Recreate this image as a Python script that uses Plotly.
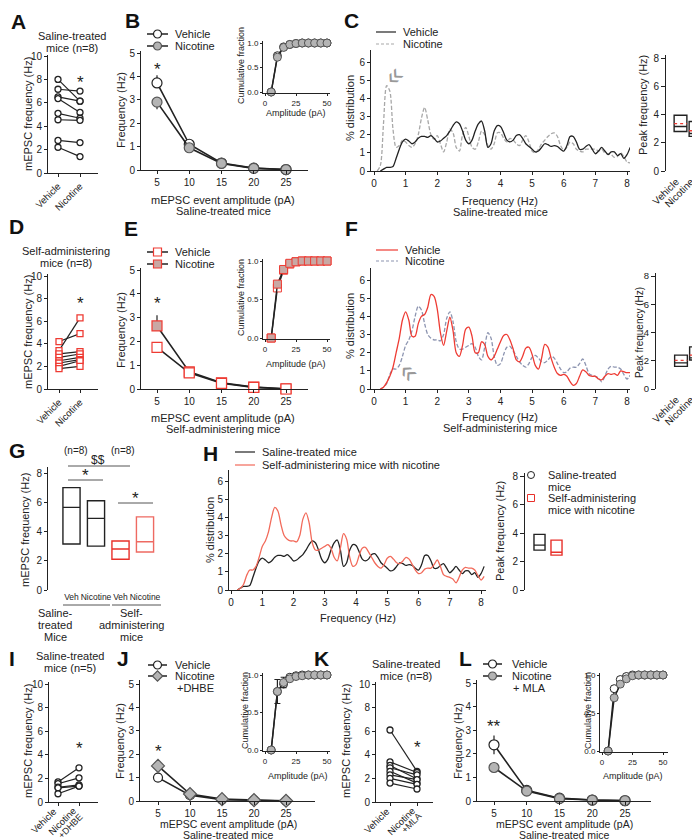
import plotly.graph_objects as go

W, H = 700, 840

# ---------------- data ----------------
pair_cats = ["Vehicle", "Nicotine"]
A_veh = [8.0, 7.16, 6.5, 6.36, 5.1, 4.55, 2.78, 2.2]
A_nic = [6.14, 7.0, 6.14, 5.18, 4.68, 4.5, 2.6, 1.4]
D_veh = [4.2, 3.4, 3.1, 2.8, 2.5, 2.3, 2.0, 1.8]
D_nic = [4.9, 6.3, 3.3, 3.1, 2.8, 2.6, 2.5, 2.0]
I_cats = ["Vehicle", "Nicotine", "+DHBE"]
I_veh = [1.7, 1.55, 1.25, 1.2, 0.7]
I_nic = [2.9, 2.05, 1.45, 1.35, 1.35]
K_cats = ["Vehicle", "Nicotine", "+MLA"]
K_veh = [6.1, 3.4, 3.1, 2.9, 2.6, 2.3, 2.0, 1.6]
K_nic = [2.6, 2.5, 1.95, 2.3, 1.6, 1.9, 1.5, 1.1]

amps = [5, 10, 15, 20, 25]
B_veh = [3.72, 1.1, 0.3, 0.08, 0.02]
B_veh_err = [0.33, 0.12, 0.04, 0.02, 0.01]
B_nic = [2.9, 0.95, 0.28, 0.07, 0.02]
B_nic_err = [0.3, 0.1, 0.04, 0.02, 0.01]
E_veh = [1.75, 0.68, 0.24, 0.07, 0.0]
E_veh_err = [0.15, 0.05, 0.03, 0.01, 0.0]
E_nic = [2.65, 0.72, 0.26, 0.08, 0.01]
E_nic_err = [0.45, 0.06, 0.03, 0.01, 0.0]
J_veh = [1.0, 0.25, 0.06, 0.03, 0.0]
J_veh_err = [0.08, 0.04, 0.01, 0.01, 0.0]
J_nic = [1.5, 0.3, 0.08, 0.04, 0.01]
J_nic_err = [0.1, 0.04, 0.01, 0.01, 0.0]
L_veh = [2.38, 0.45, 0.12, 0.04, 0.01]
L_veh_err = [0.4, 0.05, 0.02, 0.01, 0.0]
L_nic = [1.42, 0.42, 0.1, 0.04, 0.02]
L_nic_err = [0.2, 0.04, 0.02, 0.01, 0.0]

cum_amps = [5, 10, 15, 20, 25, 30, 35, 40, 45, 50]
B_cum_veh = [0, 0.74, 0.92, 0.97, 0.99, 1.0, 1.0, 1.0, 1.0, 1.0]
B_cum_nic = [0, 0.71, 0.91, 0.97, 0.99, 1.0, 1.0, 1.0, 1.0, 1.0]
E_cum_veh = [0, 0.65, 0.88, 0.96, 0.99, 1.0, 1.0, 1.0, 1.0, 1.0]
E_cum_nic = [0, 0.70, 0.89, 0.97, 0.99, 1.0, 1.0, 1.0, 1.0, 1.0]
J_cum_veh = [0, 0.78, 0.88, 0.97, 0.99, 1.0, 1.0, 1.0, 1.0, 1.0]
J_cum_nic = [0, 0.78, 0.90, 0.95, 0.98, 0.99, 1.0, 1.0, 1.0, 1.0]
J_cum_err = [0, 0.16, 0.07, 0.02, 0.01, 0, 0, 0, 0, 0]
L_cum_veh = [0, 0.82, 0.94, 0.98, 1.0, 1.0, 1.0, 1.0, 1.0, 1.0]
L_cum_nic = [0, 0.70, 0.88, 0.95, 0.99, 1.0, 1.0, 1.0, 1.0, 1.0]

C_veh = [0, 0.1, 0.2, 0.2, 0.25, 0.7, 1.2, 1.6, 1.75, 1.65,
         1.5, 1.6, 1.8, 1.9, 1.9, 1.85, 1.95, 1.8, 1.6, 1.65,
         1.8, 1.95, 2.2, 2.5, 2.7, 2.6, 2.2, 1.7, 1.5, 1.7,
         2.2, 2.6, 2.75, 2.2, 1.3, 1.5, 2.2, 2.5, 2.45, 2.1,
         1.7, 1.6, 1.7, 1.95, 2.0, 1.8, 1.5, 1.35, 1.2, 1.05,
         1.1, 1.3, 1.5, 1.45, 1.35, 1.4, 1.35, 1.2, 1.1, 1.4,
         1.9, 1.9, 1.6, 1.2, 1.2, 1.35, 1.45, 1.2, 0.95, 1.1,
         1.3, 1.1, 0.9, 1.05, 1.05, 0.85, 0.95, 0.7, 0.9, 1.3]
C_nic = [0, 0.3, 2.6, 4.7, 4.4, 2.3, 1.3, 1.4, 1.7, 1.6,
         1.4, 1.3, 1.5, 2.0, 2.9, 3.5, 2.8, 2.0, 1.75, 1.95,
         1.5, 1.05, 1.6, 2.3, 2.1, 1.3, 1.1, 2.0, 2.4, 1.9,
         1.3, 1.2, 1.6, 2.2, 2.0, 1.4, 1.2, 1.5, 2.1, 2.1,
         1.8, 1.6, 1.8, 1.7, 1.5, 1.4, 1.7, 1.95, 1.6, 1.1,
         1.0, 1.2, 1.5, 1.7, 1.9, 2.05, 2.1, 1.9, 1.4, 1.15,
         1.3, 1.6, 1.5, 1.2, 1.1, 1.05, 1.2, 1.2, 1.2, 1.2,
         1.1, 1.2, 1.0, 0.95, 0.9, 0.75, 0.8, 1.0, 0.8, 0.5,
         0.45]
F_veh = [0, 0.1, 0.35, 0.7, 1.2, 2.0, 2.8, 3.8, 4.25, 3.8,
         2.9, 2.9, 3.6, 4.0, 4.1, 4.5, 5.2, 5.1, 4.4, 3.1,
         2.4, 3.2, 3.95, 3.2, 2.0, 1.8, 2.4, 3.3, 3.4, 2.9,
         2.0, 2.0, 2.6, 2.45, 1.8, 1.6, 1.8, 2.2, 2.6, 2.95,
         3.0, 2.7, 2.2, 1.6, 1.5, 1.8, 2.25, 2.3, 1.9, 1.3,
         1.1, 1.7, 2.45, 2.3, 1.7, 1.2, 0.85, 0.75, 0.8, 0.7,
         0.4, 0.2, 0.3, 0.7, 1.05, 0.95, 0.75, 0.7, 0.7, 0.55,
         0.5, 0.7, 0.85, 0.8, 0.85, 0.75, 1.0, 0.95, 0.9, 0.9]
F_nic = [0, 0.1, 0.3, 0.8, 1.1, 1.1, 1.3, 1.8, 2.4, 2.7,
         3.2, 4.0, 4.55, 4.35, 3.6, 3.0, 2.8, 2.7, 2.7, 2.65,
         3.0, 3.9, 4.25, 3.7, 2.6, 2.2, 2.2, 2.3, 2.4, 2.5,
         2.3, 1.8, 1.6, 2.3, 3.1, 2.8, 1.8, 1.3, 1.4, 1.9,
         2.3, 2.35, 2.1, 1.8, 1.5, 1.3, 1.2, 1.4, 1.75, 1.85,
         1.7, 1.5, 1.45, 1.6, 1.8, 1.7, 1.4, 1.1, 0.9, 0.95,
         1.15, 1.2, 1.2, 1.4, 1.65, 1.3, 0.85, 0.75, 0.7, 0.6,
         0.4, 0.7, 1.1, 1.25, 1.2, 1.2, 1.1, 0.8, 0.55, 0.75]
freq_from_02 = [round(0.2 + 0.1 * i, 2) for i in range(len(C_veh))]
freq_from_01 = [round(0.1 + 0.1 * i, 2) for i in range(len(C_nic))]

box_cats = ["Vehicle", "Nicotine"]
Cbox_q1 = [2.8, 2.45]; Cbox_med = [3.15, 2.65]; Cbox_q3 = [3.95, 3.5]; Cbox_mean = [3.35, 2.85]
Fbox_q1 = [1.6, 2.05]; Fbox_med = [1.85, 2.2]; Fbox_q3 = [2.4, 2.98]; Fbox_mean = [2.02, 2.4]
G_cats = ["Veh", "Nicotine", "Veh", "Nicotine"]
G_q1 = [3.15, 3.0, 2.1, 2.6]; G_med = [5.65, 4.9, 2.8, 3.3]; G_q3 = [7.0, 6.1, 3.35, 5.0]
G_colors = ["#222222", "#222222", "#e8302a", "#ee6a62"]
Hbox_q1 = [2.8, 2.45]; Hbox_med = [3.15, 2.65]; Hbox_q3 = [3.9, 3.5]

RED = "#ee3b33"
GREY = "#b4b4b4"
DARK = "#222222"
FONT = "Arial, Liberation Sans, sans-serif"

fig = go.Figure()
layout = dict(width=W, height=H, margin=dict(l=0, r=0, t=0, b=0),
              paper_bgcolor="white", plot_bgcolor="rgba(0,0,0,0)",
              showlegend=False, font=dict(family=FONT, size=10, color=DARK))


def lin(p, v1, p1, v2, p2):
    return v1 + (p - p1) * (v2 - v1) / (p2 - p1)


def refs(n):
    return ("x" if n == 1 else f"x{n}"), ("y" if n == 1 else f"y{n}")


def axes(n, xpx, xcal, ypx, ycal, xkw=None, ykw=None, fs=10):
    xr, yr = refs(n)
    base = dict(showgrid=False, zeroline=False, showline=True, linecolor=DARK,
                linewidth=1, ticks="outside", ticklen=3, tickwidth=1, tickcolor=DARK,
                tickfont=dict(size=fs, color=DARK, family=FONT), fixedrange=True,
                automargin=False, tickangle=0)
    xa = dict(base, domain=[xpx[0] / W, xpx[1] / W],
              range=[lin(xpx[0], *xcal), lin(xpx[1], *xcal)], anchor=yr)
    ya = dict(base, domain=[1 - ypx[0] / H, 1 - ypx[1] / H],
              range=[lin(ypx[0], *ycal), lin(ypx[1], *ycal)], anchor=xr)
    if xkw:
        xa.update(xkw)
    if ykw:
        ya.update(ykw)
    layout["xaxis" if n == 1 else f"xaxis{n}"] = xa
    layout["yaxis" if n == 1 else f"yaxis{n}"] = ya


def on(n):
    xr, yr = refs(n)
    return dict(xaxis=xr, yaxis=yr, showlegend=False, cliponaxis=False)


annotations = []
shapes = []


def T(x, y, text, size=11, xa="center", ya="middle", angle=0, color=DARK, bold=False, gap=12, pad=1):
    lines = text if isinstance(text, list) else [text]
    for k, t in enumerate(lines):
        if bold:
            t = f"<b>{t}</b>"
        annotations.append(dict(x=x, y=y + k * gap, xref="x20", yref="y20", text=t, showarrow=False,
                                xanchor=xa, yanchor=ya, textangle=angle, borderpad=pad,
                                font=dict(size=size, color=color, family=FONT)))


def rot(x_end, y_top, text, size=10):
    # label rotated to read upwards, its end sitting at (x_end, y_top)
    T(x_end, y_top, text, size, xa="right", ya="top", angle=-45, pad=0)


def star(n, x, y, text="*", size=17):
    xr, yr = refs(n)
    annotations.append(dict(x=x, y=y, xref=xr, yref=yr, text=text, showarrow=False,
                            font=dict(size=size, color=DARK, family=FONT)))


def seg(x0, x1, y0, y1, color="#555", width=1):
    shapes.append(dict(type="line", xref="x20", yref="y20", x0=x0, x1=x1, y0=y0, y1=y1,
                       line=dict(color=color, width=width)))


def leg(x0, x1, y, lcolor=DARK, dash="solid", msym=None, mfill="white", medge=DARK, msize=8, lw=1.5):
    fig.add_trace(go.Scatter(x=[x0, x1], y=[y, y], mode="lines",
                             line=dict(color=lcolor, width=lw, dash=dash), **on(20)))
    if msym:
        fig.add_trace(go.Scatter(x=[(x0 + x1) / 2], y=[y], mode="markers",
                                 marker=dict(symbol=msym, size=msize, color=mfill,
                                             line=dict(color=medge, width=1.2)), **on(20)))


# ---------------- axes ----------------
small = dict(tickfont=dict(size=8, color=DARK, family=FONT), ticklen=2)
yt10 = dict(tickvals=[0, 2, 4, 6, 8, 10])
yt5 = dict(tickvals=[0, 1, 2, 3, 4, 5])
xamp = dict(tickvals=amps)
cumx = dict(small, tickvals=[0, 25, 50])
cumy = dict(small, tickvals=[0, 0.5, 1.0], ticktext=["0.0", "0.5", "1.0"])
fx = dict(tickvals=[0, 1, 2, 3, 4, 5, 6, 7, 8])
fy = dict(tickvals=[0, 1, 2, 3, 4, 5, 6])
boxx = dict(showline=False, ticks="", tickvals=[0, 1], showticklabels=False)
pky = dict(tickvals=[0, 2, 4, 6, 8], ticklen=4)
pairx = dict(tickangle=-45, tickfont=dict(size=9.5, color=DARK, family=FONT))
pairx_manual = dict(tickvals=[0, 1], showticklabels=False)

axes(1, (40, 90), (0, 50, 1, 72), (165, 47), (0, 165, 10, 48),
     dict(pairx, tickvals=[0, 1], ticktext=pair_cats), yt10)
axes(2, (133, 300), (5, 149, 25, 278), (162, 43), (0, 162, 5, 45), xamp, yt5)
axes(3, (255, 322), (0, 257, 50, 319), (85, 33), (0, 84, 1, 35), cumx, cumy)
axes(4, (363, 622), (0, 366, 8, 619), (163, 42), (0, 163, 6, 54), fx, fy)
axes(5, (658, 700), (0, 672.5, 1, 687.5), (163, 47), (0, 163, 8, 50), boxx, pky)
axes(6, (40, 90), (0, 51, 1, 72), (381, 266), (0, 381, 10, 268),
     dict(pairx, tickvals=[0, 1], ticktext=pair_cats), yt10)
axes(7, (133, 300), (5, 149, 25, 278), (381, 260), (0, 381, 5, 262), xamp, yt5)
axes(8, (255, 322), (0, 257, 50, 319), (331, 251), (0, 330, 1, 253), cumx, cumy)
axes(9, (363, 622), (0, 366, 8, 619), (381, 260), (0, 381, 6, 272), fx, fy)
axes(10, (648, 700), (0, 673, 1, 688), (381, 265), (0, 381, 8, 268), boxx,
     dict(pky, tickfont=dict(size=9.5, color=DARK, family=FONT)))
axes(11, (40, 152), (0, 63.5, 1, 88), (582, 459), (0, 582, 8, 465),
     dict(showline=False, ticks="", tickvals=[0, 1, 2, 3], ticktext=G_cats, tickangle=0,
          tickfont=dict(size=8.5, color=DARK, family=FONT)), dict(tickvals=[0, 2, 4, 6, 8]))
axes(12, (221, 478), (0, 223, 8, 473), (582, 462), (0, 582, 6, 473), fx, fy)
axes(13, (517, 560), (0, 531.5, 1, 548.5), (582, 465), (0, 582, 8, 468),
     dict(showline=False, ticks="", showticklabels=False), pky)
axes(14, (41, 90), (0, 50, 1, 71), (794, 674), (0, 794, 10, 676), pairx_manual, yt10)
axes(15, (132, 307), (5, 150, 25, 278), (793, 672), (0, 793, 5, 676), xamp, yt5)
axes(16, (255, 322), (0, 257, 50, 319), (743, 665), (0, 742, 1, 667), cumx, cumy)
axes(17, (368, 425), (0, 382, 1, 409), (794, 674), (0, 794, 10, 676), pairx_manual, yt10)
axes(18, (469, 643), (5, 486, 25, 617), (793, 672), (0, 793, 5, 675), xamp, yt5)
axes(19, (592, 660), (0, 594, 50, 655), (744, 665), (0, 743, 1, 667), cumx, cumy)
layout["xaxis20"] = dict(domain=[0, 1], range=[0, W], visible=False, fixedrange=True, anchor="y20")
layout["yaxis20"] = dict(domain=[0, 1], range=[H, 0], visible=False, fixedrange=True, anchor="x20")


# ---------------- paired plots ----------------
def paired(n, veh, nic, sym, edge, size=6):
    for v, c in zip(veh, nic):
        fig.add_trace(go.Scatter(x=[0, 1], y=[v, c], mode="lines+markers",
                                 line=dict(color=DARK, width=1.2),
                                 marker=dict(symbol=sym, size=size, color="white",
                                             line=dict(color=edge, width=1.3)), **on(n)))


paired(1, A_veh, A_nic, "circle", DARK)
paired(6, D_veh, D_nic, "square", RED)
paired(14, I_veh, I_nic, "circle", DARK)
paired(17, K_veh, K_nic, "circle", DARK)
star(1, 1, 7.7)
star(6, 1, 7.6)
star(14, 1, 4.5)
star(17, 1, 4.6)


# ---------------- amplitude plots ----------------
def amp_trace(n, y, err, up, sym, fill, edge, size=10, both=False):
    ed = dict(type="data", symmetric=False,
              array=err if (up or both) else [0] * len(err),
              arrayminus=err if (both or not up) else [0] * len(err),
              color=DARK, thickness=1.2, width=0)
    fig.add_trace(go.Scatter(x=amps, y=y, mode="lines+markers", error_y=ed,
                             line=dict(color=DARK, width=1.6),
                             marker=dict(symbol=sym, size=size, color=fill,
                                         line=dict(color=edge, width=1.2)), **on(n)))


def cum_trace(n, y, sym, fill, edge, err=None):
    kw = {}
    if err is not None:
        kw["error_y"] = dict(type="data", array=err, color=DARK, thickness=1.2, width=3)
    fig.add_trace(go.Scatter(x=cum_amps, y=y, mode="lines+markers",
                             line=dict(color=DARK, width=1.4),
                             marker=dict(symbol=sym, size=8, color=fill,
                                         line=dict(color=edge, width=1)), **kw, **on(n)))


amp_trace(2, B_veh, B_veh_err, True, "circle", "white", DARK)
amp_trace(2, B_nic, B_nic_err, False, "circle", GREY, "#555")
cum_trace(3, B_cum_veh, "circle", "white", DARK)
cum_trace(3, B_cum_nic, "circle", GREY, "#555")
star(2, 5, 4.3)

amp_trace(7, E_nic, E_nic_err, True, "square", "#c9a8a4", RED)
amp_trace(7, E_veh, E_veh_err, False, "square", "white", RED)
cum_trace(8, E_cum_veh, "square", "white", RED)
cum_trace(8, E_cum_nic, "square", "#c9a8a4", RED)
star(7, 5, 3.6)

amp_trace(15, J_veh, J_veh_err, False, "circle", "white", DARK, 9)
amp_trace(15, J_nic, J_nic_err, True, "diamond", GREY, "#555", 10)
cum_trace(16, J_cum_veh, "circle", "white", DARK)
cum_trace(16, J_cum_nic, "circle", GREY, "#555", J_cum_err)
star(15, 5, 2.1)

amp_trace(18, L_veh, L_veh_err, True, "circle", "white", DARK, both=True)
amp_trace(18, L_nic, L_nic_err, False, "circle", GREY, "#555", both=True)
cum_trace(19, L_cum_veh, "circle", "white", DARK)
cum_trace(19, L_cum_nic, "circle", GREY, "#555")
star(18, 5, 3.15, "**")


# ---------------- frequency distributions ----------------
def curve(n, x, y, color, dash="solid", width=1.3):
    fig.add_trace(go.Scatter(x=x, y=y, mode="lines",
                             line=dict(color=color, width=width, dash=dash, shape="spline", smoothing=0.8),
                             **on(n)))


curve(4, freq_from_01, C_nic, "#a8a8a8", "4px,2px")
curve(4, freq_from_02, C_veh, DARK)
curve(9, freq_from_02, F_nic, "#8c94b0", "4px,2px")
curve(9, freq_from_02, F_veh, RED)
curve(12, freq_from_02, C_veh, DARK)
curve(12, freq_from_02, F_nic, "#f26a5a")


# ---------------- boxes ----------------
def boxes(n, q1, med, q3, colors, width, mean=None):
    for i in range(len(q1)):
        fig.add_trace(go.Box(x=[i], q1=[q1[i]], median=[med[i]], q3=[q3[i]],
                             lowerfence=[q1[i]], upperfence=[q3[i]], width=width,
                             whiskerwidth=0, fillcolor="rgba(0,0,0,0)", boxpoints=False,
                             line=dict(color=colors[i], width=1.4),
                             xaxis=refs(n)[0], yaxis=refs(n)[1], showlegend=False))
        if mean is not None:
            fig.add_trace(go.Scatter(x=[i - width / 2, i + width / 2], y=[mean[i], mean[i]],
                                     mode="lines", line=dict(color=RED, width=1.3, dash="dot"),
                                     **on(n)))


boxes(5, Cbox_q1, Cbox_med, Cbox_q3, [DARK, DARK], 0.85, Cbox_mean)
boxes(10, Fbox_q1, Fbox_med, Fbox_q3, [DARK, DARK], 0.85, Fbox_mean)
boxes(11, G_q1, G_med, G_q3, G_colors, 0.7)
boxes(13, Hbox_q1, Hbox_med, Hbox_q3, [DARK, "#e8302a"], 0.65)

# rotated category labels
rot(675, 167, box_cats[0], 10)
rot(690, 166, box_cats[1], 10)
rot(675, 385, box_cats[0], 10)
rot(690, 384, box_cats[1], 10)
rot(52, 796, I_cats[0], 9.5)
rot(71, 796, I_cats[1], 9.5)
rot(78, 802, I_cats[2], 9)
rot(385, 796, K_cats[0], 9.5)
rot(410, 796, K_cats[1], 9.5)
rot(417, 802, K_cats[2], 9)

# ---------------- text ----------------
for lab, x, y in [("A", 10, 13), ("B", 124, 12), ("C", 343, 12), ("D", 8, 218), ("E", 123, 220),
                  ("F", 343, 220), ("G", 9, 442), ("H", 202, 445), ("I", 4, 650), ("J", 115, 650),
                  ("K", 313, 650), ("L", 457, 650)]:
    T(x, y, lab, size=21, bold=True, color="#111")

T(64, 28, ["Saline-treated", "mice (n=8)"], 11)
T(58, 243, ["Self-administering", "mice (n=8)"], 11)
T(62, 648, ["Saline-treated", "mice (n=5)"], 11)
T(398, 656, ["Saline-treated", "mice (n=8)"], 11)

for x, y in [(20, 106), (20, 324), (17, 522), (20, 733), (338, 733)]:
    T(x, y, "mEPSC frequency (Hz)", 11, angle=-90)
for x, y in [(113, 102), (113, 322), (112, 733), (450, 733)]:
    T(x, y, "Frequency (Hz)", 11, angle=-90)
for x, y in [(233, 58), (233, 290), (237, 703), (580, 703)]:
    T(x, y, "Cumulative fraction", 9, angle=-90)
for x, y in [(288, 105), (288, 356), (290, 768), (625, 768)]:
    T(x, y, "Amplitude (pA)", 9)
for x, y in [(342, 100), (342, 318), (202, 522)]:
    T(x, y, "% distribution", 11, angle=-90)
for x, y, s in [(635, 97, 11), (631, 325, 10), (492, 523, 11)]:
    T(x, y, "Peak frequency (Hz)", s, angle=-90)

T(215, 192, ["mEPSC event amplitude (pA)", "Saline-treated mice"], 11, gap=11)
T(492, 193, ["Frequency (Hz)", "Saline-treated mice"], 11, gap=11)
T(215, 410, ["mEPSC event amplitude (pA)", "Self-administering mice"], 11, gap=11)
T(492, 409, ["Frequency (Hz)", "Self-administering mice"], 11, gap=11)
T(350, 610, "Frequency (Hz)", 11)
T(220, 816, ["mEPSC event amplitude (pA)", "Saline-treated mice"], 10.5, gap=11, pad=0)
T(556, 816, ["mEPSC event amplitude (pA)", "Saline-treated mice"], 10.5, gap=11, pad=0)

# legends
leg(139, 160, 26, msym="circle")
T(165, 26, "Vehicle", 11, xa="left")
leg(139, 160, 38, msym="circle", mfill=GREY, medge="#555")
T(165, 38, "Nicotine", 11, xa="left")
leg(368, 388, 24, lw=1.2)
T(393, 24, "Vehicle", 11, xa="left")
leg(368, 388, 36, lcolor="#a8a8a8", dash="3px,2px", lw=1.2)
T(393, 36, "Nicotine", 11, xa="left")
leg(139, 160, 244, msym="square", medge=RED)
T(165, 244, "Vehicle", 11, xa="left")
leg(139, 160, 256, msym="square", mfill="#c9a8a4", medge=RED)
T(165, 256, "Nicotine", 11, xa="left")
leg(368, 390, 242, lcolor=RED, lw=1.2)
T(395, 242, "Vehicle", 11, xa="left")
leg(368, 390, 253, lcolor="#8c94b0", dash="3px,2px", lw=1.2)
T(395, 253, "Nicotine", 11, xa="left")
leg(227, 247, 444, lw=1.2)
T(252, 444, "Saline-treated mice", 11, xa="left")
leg(227, 247, 457, lcolor="#f26a5a", lw=1.2)
T(252, 457, "Self-administering mice with nicotine", 11, xa="left")
fig.add_trace(go.Scatter(x=[523], y=[467], mode="markers",
                         marker=dict(symbol="circle-open", size=7, color=DARK), **on(20)))
fig.add_trace(go.Scatter(x=[523], y=[490], mode="markers",
                         marker=dict(symbol="square-open", size=7, color="#e8302a"), **on(20)))
T(538, 467, ["Saline-treated", "mice"], 11, xa="left", gap=11.5)
T(538, 490, ["Self-administering", "mice with nicotine"], 11, xa="left", gap=11.5)
leg(140, 159, 657, msym="circle")
T(165, 657, "Vehicle", 11, xa="left")
leg(140, 159, 668, msym="diamond", mfill=GREY, medge="#555")
T(165, 668, "Nicotine", 11, xa="left")
T(167, 680, "+DHBE", 11, xa="left")
leg(475, 494, 656, msym="circle")
T(502, 656, "Vehicle", 11, xa="left")
leg(475, 494, 668, msym="circle", mfill=GREY, medge="#555")
T(502, 668, "Nicotine", 11, xa="left")
T(503, 680, "+ MLA", 11, xa="left")

# arrows
T(385, 67, "«", 28, angle=-45, color="#999")
T(402, 363, "«", 28, angle=45, color="#999")

# G annotations
T(68, 442, "(n=8)", 10)
T(115, 442, "(n=8)", 10)
T(90, 452, "$$", 12)
seg(60, 122, 458, 458)
T(77, 467, "*", 17)
seg(60, 95, 472, 472)
T(127, 490, "*", 17)
seg(110, 145, 495, 495)
seg(55, 102, 597, 597)
seg(104, 153, 597, 597)
T(47, 605, ["Saline-", "treated", "Mice"], 11)
T(123, 605, ["Self-", "administering", "mice"], 11)

layout["annotations"] = annotations
layout["shapes"] = shapes
fig.update_layout(**layout)
fig.write_html("out.html")
